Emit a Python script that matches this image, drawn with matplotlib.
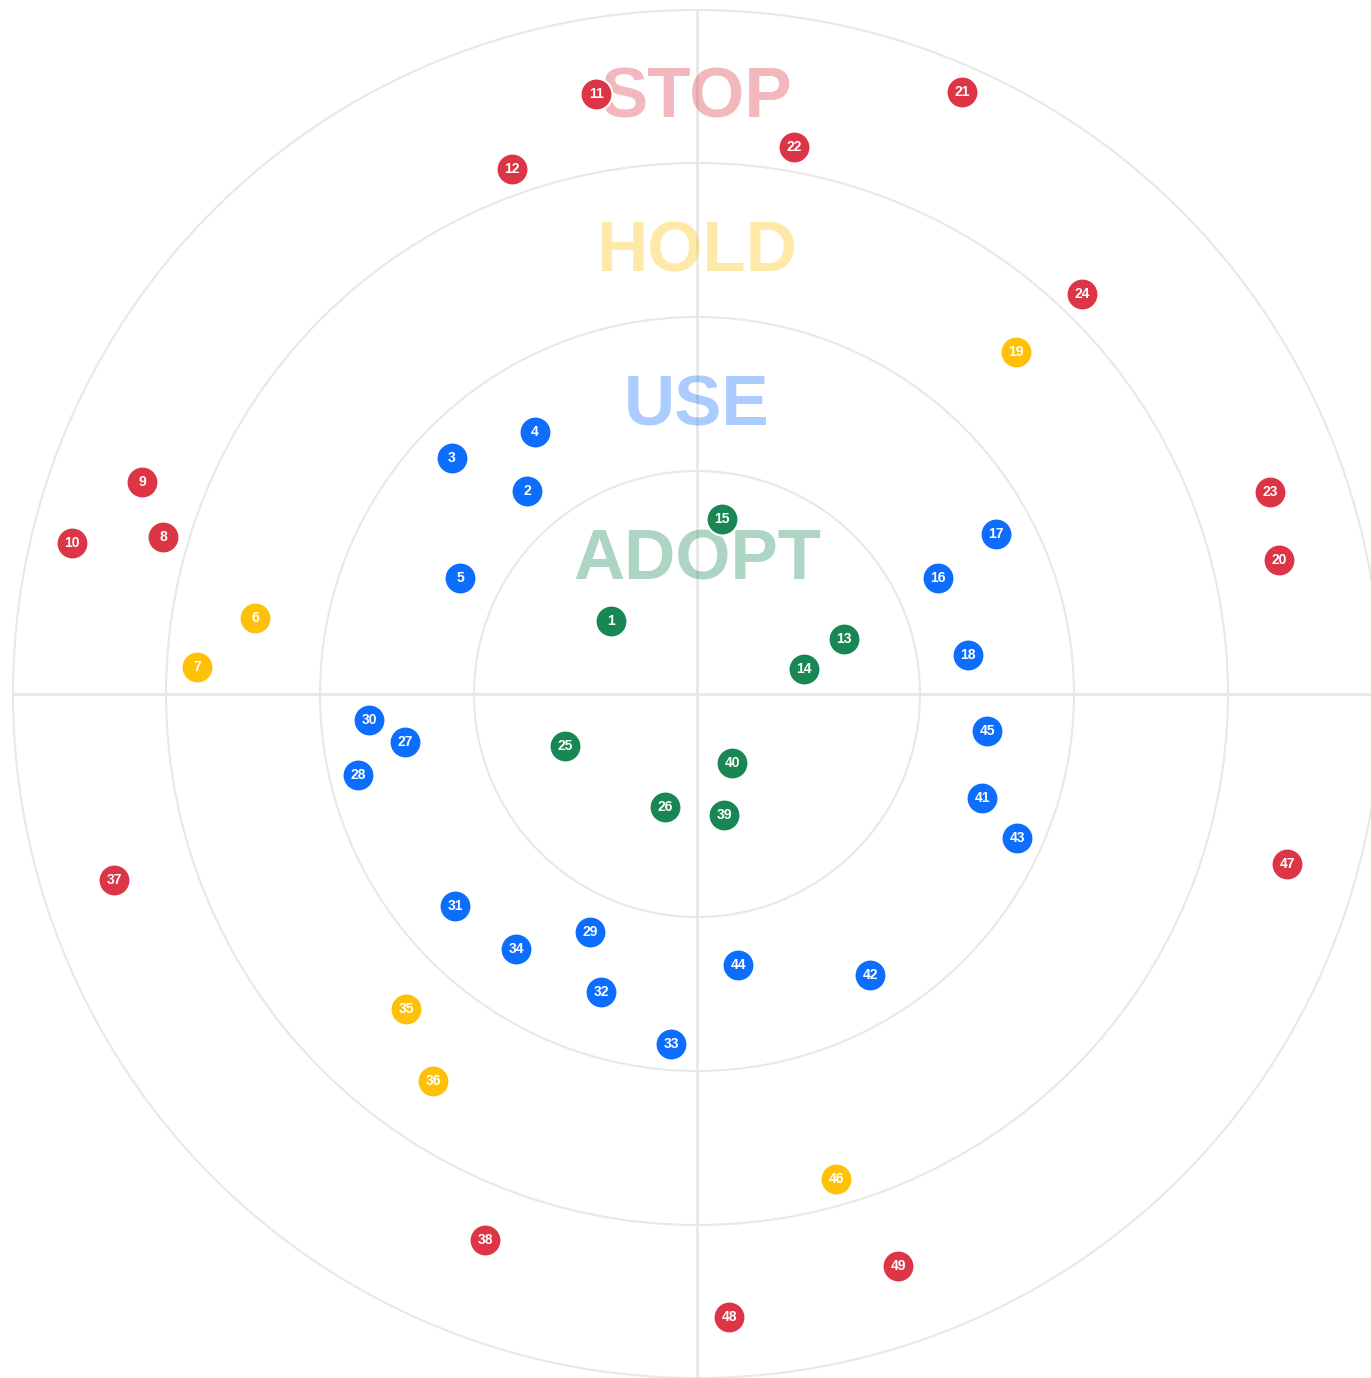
import matplotlib
matplotlib.use("Agg")
import matplotlib.pyplot as plt

# ring names (inner -> outer) and their outer radii (px from centre)
RINGS = ["ADOPT", "USE", "HOLD", "STOP"]
RADII = [223, 377, 531, 684]
RING_COL = {"ADOPT": "#198754", "USE": "#0d6efd", "HOLD": "#ffc107", "STOP": "#dc3545"}

# blips: id, ring, x / y offset from centre (y up)
IDS = list(range(1, 50))
RING_OF = ["ADOPT", "USE", "USE", "USE", "USE", "HOLD", "HOLD", "STOP", "STOP", "STOP",
           "STOP", "STOP", "ADOPT", "ADOPT", "ADOPT", "USE", "USE", "USE", "HOLD", "STOP",
           "STOP", "STOP", "STOP", "STOP", "ADOPT", "ADOPT", "USE", "USE", "USE", "USE",
           "USE", "USE", "USE", "USE", "HOLD", "HOLD", "STOP", "STOP", "ADOPT", "ADOPT",
           "USE", "USE", "USE", "USE", "USE", "HOLD", "STOP", "STOP", "STOP"]
BX = [-86, -170, -245, -162, -237, -442, -500, -534, -555, -625,
      -101, -185, 147, 107, 25, 241, 299, 271, 319, 582,
      265, 97, 573, 385, -132, -32, -292, -339, -107, -328,
      -242, -96, -26, -181, -291, -264, -583, -212, 27, 35,
      285, 173, 320, 41, 290, 139, 590, 32, 201]
BY = [73, 203, 236, 262, 116, 76, 27, 157, 212, 151,
      600, 525, 55, 25, 175, 116, 160, 39, 342, 134,
      602, 547, 202, 400, -52, -113, -48, -81, -238, -26,
      -212, -298, -350, -255, -315, -387, -186, -546, -121, -69,
      -104, -281, -144, -271, -37, -485, -170, -623, -572]

fig = plt.figure(figsize=(13.71, 13.78), dpi=100)
ax = fig.add_axes([0, 0, 1, 1])
ax.set_xlim(-697, 674)
ax.set_ylim(-684, 694)
ax.set_aspect("equal")
ax.axis("off")

grid = "#e8e8e8"
for r in RADII:
    ax.add_patch(plt.Circle((0, 0), r, fill=False, ec=grid, lw=1.5, zorder=1))
R = RADII[-1]
ax.plot([0, 0], [-R, R], color=grid, lw=2, zorder=1)
ax.plot([-R, R], [0, 0], color=grid, lw=2, zorder=1)

# ring names, faint, above each ring's top edge
for name, r in zip(RINGS, RADII):
    ax.text(0, r - 108, name, ha="center", va="baseline", fontsize=51,
            fontweight="bold", family="Liberation Sans",
            color=RING_COL[name], alpha=0.35, zorder=2)

for i, rg, x, y in zip(IDS, RING_OF, BX, BY):
    ax.plot(x, y, "o", ms=23, color=RING_COL[rg], mec="white", mew=1.5, zorder=3)
    ax.text(x, y, str(i), ha="center", va="center", fontsize=10,
            fontweight="bold", color="white", family="Liberation Sans", zorder=4)

fig.savefig("out.png", dpi=100)
